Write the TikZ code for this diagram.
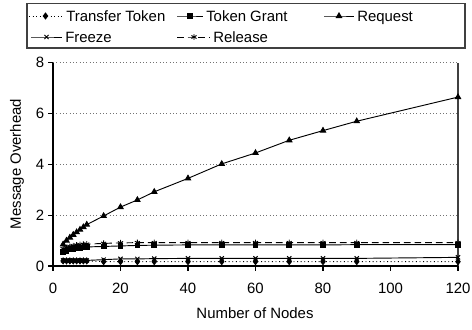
\documentclass[tikz,border=0pt]{standalone}
\usepackage{fontspec}
\setmainfont{Liberation Sans}
\usetikzlibrary{plotmarks}

\tikzset{
  frameline/.style={line width=0.8pt, draw=black!75},
  axisline/.style={line width=0.8pt, draw=black},
  gridline/.style={line width=0.5pt, draw=black!55, dotted},
  series/.style={line width=0.7pt, draw=black, mark options={solid, fill=black, scale=1}},
  transfer/.style={series, dotted, mark=diamond*, mark size=2.2pt},
  grant/.style={series, mark=square*, mark size=1.8pt},
  request/.style={series, mark=triangle*, mark size=2.3pt},
  freeze/.style={series, mark=x, mark size=2.2pt},
  release/.style={series, dashed, dash pattern=on 5pt off 3pt, mark=asterisk, mark size=2.2pt},
  legsample/.style={mark indices={2}},
  legtext/.style={anchor=base west, inner sep=0pt},
  ticklab/.style={inner sep=0pt},
}

\begin{document}
\begin{tikzpicture}[x=0.75pt, y=-0.75pt, font=\fontsize{11.2}{14}\selectfont]
\useasboundingbox (0,0) rectangle (472,329);

% legend
\draw[frameline] (27,3.5) rectangle (465,48);
\draw[transfer, legsample] plot coordinates {(29,16) (45.5,16) (62,16)};
\node[legtext] (lgTransfer) at (66,21.5) {Transfer Token};
\draw[grant, legsample] plot coordinates {(177,16) (190,16) (203,16)};
\node[legtext] (lgGrant) at (206,21.5) {Token Grant};
\draw[request, legsample] plot coordinates {(324,16) (339,16) (354,16)};
\node[legtext] (lgRequest) at (357,21.5) {Request};
\draw[freeze, legsample] plot coordinates {(31,37) (46.5,37) (62,37)};
\node[legtext] (lgFreeze) at (65,42.5) {Freeze};
\draw[release, legsample] plot coordinates {(177,37) (194,37) (210,37)};
\node[legtext] (lgRelease) at (213,42.5) {Release};

% axis titles
\node (xTitle) at (255,313) {Number of Nodes};
\node[rotate=90] (yTitle) at (17,164) {Message Overhead};

% plot area: n nodes -> x, overhead -> y
\begin{scope}[shift={(39.75pt,-199.5pt)}, x=2.53125pt, y=19.05pt]
  \foreach \v in {2,4,6,8}
    \draw[gridline] (0,\v) -- (120,\v);
  \draw[frameline] (120,0) -- (120,8);
  \draw[axisline] (0,8) -- (0,0) -- (120,0);
  \foreach \v in {0,2,4,6,8} {
    \draw[axisline] (0,\v) -- ++(-3.5pt,0);
    \node[ticklab, anchor=east] (yl\v) at ([xshift=-6.5pt]0,\v) {\v};
  }
  \foreach \n in {0,20,...,120} {
    \draw[axisline] (\n,0) -- ++(0,-3.5pt);
    \node[ticklab, anchor=north] (xl\n) at ([yshift=-12.5pt]\n,0) {\n};
  }

  \draw[transfer] plot coordinates {
    (3,0.2) (4,0.2) (5,0.2) (6,0.2) (7,0.2) (8,0.2) (9,0.2) (10,0.2)
    (15,0.17) (20,0.17) (25,0.17) (30,0.17) (40,0.17) (50,0.17) (60,0.17)
    (70,0.17) (80,0.17) (90,0.17) (120,0.17)};
  \draw[freeze] plot coordinates {
    (3,0.22) (4,0.22) (5,0.22) (6,0.22) (7,0.22) (8,0.22) (9,0.22) (10,0.22)
    (15,0.25) (20,0.28) (25,0.28) (30,0.29) (40,0.3) (50,0.3) (60,0.3)
    (70,0.3) (80,0.3) (90,0.3) (120,0.34)};
  \draw[grant] plot coordinates {
    (3,0.55) (4,0.6) (5,0.65) (6,0.68) (7,0.7) (8,0.72) (9,0.73) (10,0.75)
    (15,0.77) (20,0.79) (25,0.81) (30,0.82) (40,0.83) (50,0.83) (60,0.83)
    (70,0.83) (80,0.83) (90,0.84) (120,0.84)};
  \draw[release] plot coordinates {
    (3,0.68) (4,0.73) (5,0.77) (6,0.8) (7,0.82) (8,0.84) (9,0.85) (10,0.86)
    (15,0.89) (20,0.91) (25,0.92) (30,0.92) (40,0.92) (50,0.92) (60,0.92)
    (70,0.92) (80,0.92) (90,0.92) (120,0.92)};
  \draw[request] plot coordinates {
    (3,0.85) (4,1.0) (5,1.12) (6,1.23) (7,1.33) (8,1.43) (9,1.53) (10,1.63)
    (15,1.97) (20,2.32) (25,2.6) (30,2.92) (40,3.45) (50,4.02) (60,4.45)
    (70,4.95) (80,5.33) (90,5.7) (120,6.65)};
\end{scope}
\end{tikzpicture}
\end{document}
